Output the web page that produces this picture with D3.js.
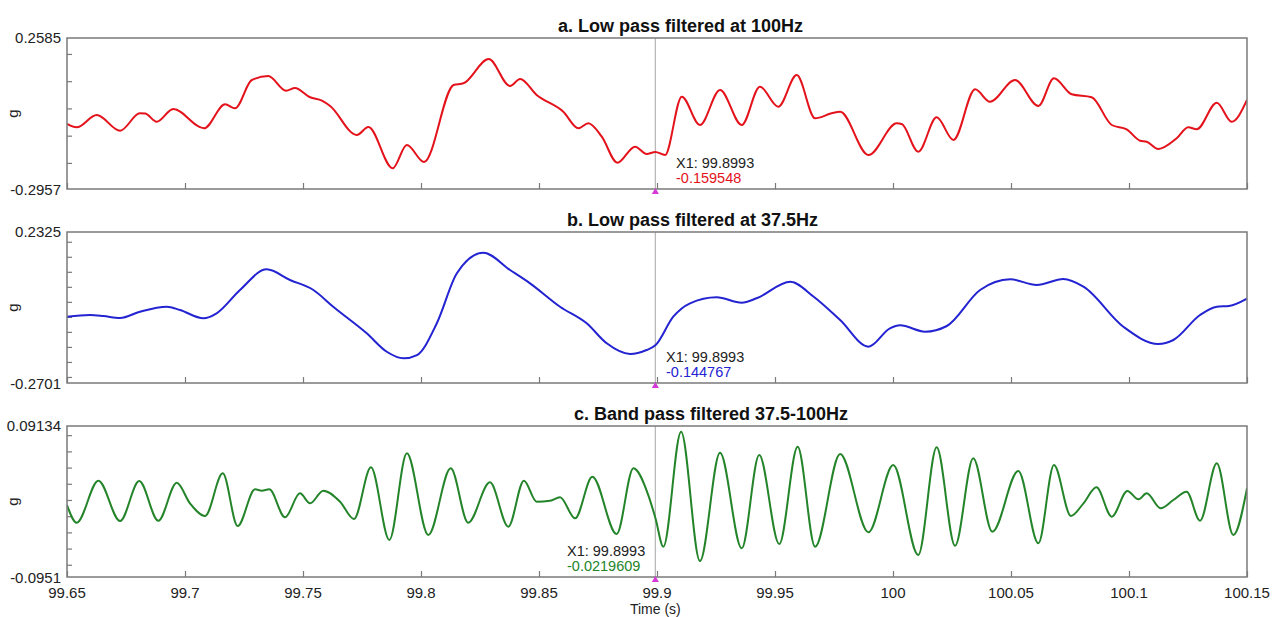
<!DOCTYPE html>
<html>
<head>
<meta charset="utf-8">
<script src="https://cdn.jsdelivr.net/npm/d3@7"></script>
<style>
  body { margin: 0; background: #fff; }
  text { font-family: "Liberation Sans", Arial, sans-serif; }
</style>
</head>
<body>
<svg id="chart" width="1280" height="617"></svg>
<script>
// ---- Shared time axis -------------------------------------------------
const xDomain = [99.65, 100.15];
const xTicks = [99.65, 99.7, 99.75, 99.8, 99.85, 99.9, 99.95, 100, 100.05, 100.1, 100.15];
const xTickLabels = ["99.65", "99.7", "99.75", "99.8", "99.85", "99.9", "99.95", "100", "100.05", "100.1", "100.15"];
const xAxisTitle = "Time (s)";
const cursorTime = 99.8993;
const cursorTimeLabel = "X1: 99.8993";

// ---- Panel titles, ranges and ticks ----------------------------------
const panelTitles = [
  "a. Low pass filtered at 100Hz",
  "b. Low pass filtered at 37.5Hz",
  "c. Band pass filtered 37.5-100Hz"
];
const yUnit = "g";
const yRangeA = [-0.2957, 0.2585];
const yRangeB = [-0.2701, 0.2325];
const yRangeC = [-0.0951, 0.09134];
const yEndLabelsA = ["-0.2957", "0.2585"];
const yEndLabelsB = ["-0.2701", "0.2325"];
const yEndLabelsC = ["-0.0951", "0.09134"];
const yTicksA = [-0.2, -0.1, 0, 0.1, 0.2];
const yTicksB = [-0.25, -0.2, -0.15, -0.1, -0.05, 0, 0.05, 0.1, 0.15, 0.2];
const yTicksC = [-0.08, -0.06, -0.04, -0.02, 0, 0.02, 0.04, 0.06, 0.08];
const cursorValueLabels = ["-0.159548", "-0.144767", "-0.0219609"];

// ---- Series: a. low pass 100 Hz --------------------------------------
const timeA = [99.650, 99.6541, 99.6626, 99.6725, 99.6809, 99.6831, 99.6880, 99.6950, 99.7081, 99.7170,
  99.7212, 99.7283, 99.7353, 99.7428, 99.7466, 99.7530, 99.7580, 99.7615, 99.7728, 99.7777,
  99.7880, 99.7940, 99.8013, 99.8138, 99.8180, 99.8287, 99.8377, 99.8420, 99.8490, 99.8603,
  99.8667, 99.8709, 99.8766, 99.8832, 99.8907, 99.8956, 99.8993, 99.9034, 99.9105, 99.9182,
  99.9267, 99.9359, 99.9436, 99.9514, 99.9592, 99.9670, 99.9740, 99.9776, 99.9896, 100.0016,
  100.0037, 100.0107, 100.0185, 100.0256, 100.0348, 100.0411, 100.0517, 100.0616, 100.0682, 100.0757,
  100.0842, 100.0927, 100.0990, 100.1047, 100.1075, 100.1124, 100.1202, 100.1251, 100.1287, 100.1372,
  100.1435, 100.150];
const valueA = [-0.0571, -0.0692, -0.0241, -0.0817, -0.0179, -0.0185, -0.0487, -0.0021, -0.0729, 0.0152,
  0.0005, 0.1044, 0.1190, 0.0651, 0.0750, 0.0409, 0.0284, 0.0089, -0.0975, -0.0681,
  -0.2197, -0.1342, -0.1966, 0.0860, 0.0922, 0.1814, 0.0823, 0.1080, 0.0493, -0.0120,
  -0.0729, -0.0546, -0.1037, -0.1992, -0.1404, -0.1672, -0.159548, -0.1709, 0.0431, -0.0608,
  0.0677, -0.0608, 0.0798, 0.0064, 0.1227, -0.0362, -0.0179, -0.0120, -0.1709, -0.0546,
  -0.0571, -0.1588, -0.0325, -0.1158, 0.0702, 0.0247, 0.1044, 0.0089, 0.1106, 0.0519,
  0.0409, -0.0608, -0.0766, -0.1184, -0.1221, -0.1489, -0.1096, -0.0692, -0.0766, 0.0211,
  -0.0487, 0.0310];

// ---- Series: b. low pass 37.5 Hz -------------------------------------
const timeB = [99.650, 99.6597, 99.6654, 99.6725, 99.6809, 99.6923, 99.6979, 99.7078, 99.7134, 99.7233,
  99.7346, 99.7445, 99.7544, 99.7628, 99.7770, 99.7855, 99.7926, 99.7983, 99.8067, 99.8152,
  99.8264, 99.8377, 99.8462, 99.8589, 99.8702, 99.8787, 99.8886, 99.8956, 99.8993, 99.9069,
  99.9140, 99.9253, 99.9359, 99.9422, 99.9565, 99.9664, 99.9776, 99.9896, 99.9987, 100.0030,
  100.0136, 100.0228, 100.0369, 100.0496, 100.0609, 100.0722, 100.0807, 100.0976, 100.1124, 100.1188,
  100.1301, 100.1372, 100.1424, 100.150];
const valueB = [-0.0495, -0.0438, -0.0471, -0.0538, -0.0328, -0.0162, -0.0272, -0.0548, -0.0381, 0.0394,
  0.1083, 0.0727, 0.0394, -0.0162, -0.1047, -0.1660, -0.1880, -0.1770, -0.0714, 0.0950,
  0.1636, 0.1060, 0.0617, -0.0162, -0.0714, -0.1380, -0.1736, -0.1603, -0.144767, -0.0495,
  -0.0049, 0.0151, -0.0029, 0.0118, 0.0670, 0.0171, -0.0605, -0.1493, -0.0881, -0.0781,
  -0.0994, -0.0804, 0.0394, 0.0750, 0.0561, 0.0760, 0.0504, -0.0828, -0.1403, -0.1270,
  -0.0438, -0.0162, -0.0138, 0.0105];

// ---- Series: c. band pass 37.5-100 Hz --------------------------------
const timeC = [99.650, 99.6541, 99.6633, 99.6725, 99.6806, 99.6887, 99.6965, 99.7021, 99.7085, 99.7160,
  99.7223, 99.7297, 99.7325, 99.7357, 99.7424, 99.7487, 99.7530, 99.7586, 99.7657, 99.7716,
  99.7788, 99.7866, 99.7940, 99.8031, 99.8126, 99.8200, 99.8292, 99.8370, 99.8436, 99.8490,
  99.8547, 99.8589, 99.8653, 99.8726, 99.8829, 99.8900, 99.8963, 99.8993, 99.9027, 99.9102,
  99.9182, 99.9267, 99.9359, 99.9433, 99.9518, 99.9596, 99.9670, 99.9776, 99.9896, 100.0001,
  100.0107, 100.0185, 100.0263, 100.0340, 100.0421, 100.0531, 100.0616, 100.0682, 100.0754, 100.0807,
  100.0862, 100.0927, 100.0993, 100.1040, 100.1075, 100.1134, 100.1188, 100.1244, 100.1301, 100.1372,
  100.1442, 100.150];
const valueC = [-0.0062, -0.0281, 0.0238, -0.0260, 0.0234, -0.0256, 0.0213, -0.0041, -0.0198, 0.0329,
  -0.0321, 0.0132, 0.0115, 0.0132, -0.0214, 0.0082, -0.0041, 0.0115, -0.0021, -0.0235,
  0.0403, -0.0494, 0.0576, -0.0432, 0.0391, -0.0281, 0.0218, -0.0330, 0.0238, -0.0021,
  -0.0009, 0.0033, -0.0226, 0.0287, -0.0420, 0.0391, 0.0061, -0.0219609, -0.0577, 0.0843,
  -0.0754, 0.0584, -0.0597, 0.0555, -0.0544, 0.0658, -0.0577, 0.0568, -0.0399, 0.0432,
  -0.0679, 0.0650, -0.0565, 0.0515, -0.0392, 0.0358, -0.0535, 0.0432, -0.0198, -0.0041,
  0.0156, -0.0206, 0.0111, 0.0008, 0.0082, -0.0103, 0.0000, 0.0102, -0.0256, 0.0453,
  -0.0432, 0.0144];

// ---- Layout -----------------------------------------------------------
const plotLeft = 67, plotRight = 1247, panelHeight = 151;
const panels = [
  { top: 38,  title: panelTitles[0], titleX: 558, time: timeA, value: valueA, range: yRangeA, ends: yEndLabelsA, ticks: yTicksA, color: "#e3121b", cursorLabel: cursorValueLabels[0], labelX: 676 },
  { top: 232, title: panelTitles[1], titleX: 567, time: timeB, value: valueB, range: yRangeB, ends: yEndLabelsB, ticks: yTicksB, color: "#2323d2", cursorLabel: cursorValueLabels[1], labelX: 666 },
  { top: 426, title: panelTitles[2], titleX: 574, time: timeC, value: valueC, range: yRangeC, ends: yEndLabelsC, ticks: yTicksC, color: "#24842a", cursorLabel: cursorValueLabels[2], labelX: 567 }
];

const svg = d3.select("#chart");
const x = d3.scaleLinear().domain(xDomain).range([plotLeft, plotRight]);
const textColor = "#222";
const frameColor = "#7a7a7a";

panels.forEach((p, i) => {
  const bottom = p.top + panelHeight;
  const y = d3.scaleLinear().domain(p.range).range([bottom, p.top]);
  const g = svg.append("g");

  g.append("clipPath").attr("id", "clip" + i)
    .append("rect").attr("x", plotLeft).attr("y", p.top)
    .attr("width", plotRight - plotLeft).attr("height", panelHeight);

  // inward minor ticks on the left edge
  const yAxis = g.append("g").attr("transform", `translate(${plotLeft},0)`)
    .call(d3.axisLeft(y).tickValues(p.ticks).tickSize(-5).tickFormat(""));
  yAxis.select(".domain").remove();
  yAxis.selectAll("line").attr("stroke", frameColor).attr("stroke-width", 1.2);

  // inward ticks along the bottom edge
  const xAxis = g.append("g").attr("transform", `translate(0,${bottom})`)
    .call(d3.axisBottom(x).tickValues(xTicks).tickSize(-6).tickFormat(""));
  xAxis.select(".domain").remove();
  xAxis.selectAll("line").attr("stroke", frameColor).attr("stroke-width", 1.2);

  // cursor line
  g.append("line")
    .attr("x1", x(cursorTime)).attr("x2", x(cursorTime))
    .attr("y1", p.top).attr("y2", bottom)
    .attr("stroke", "#b5b5b5").attr("stroke-width", 1.2);

  // signal trace
  const pts = p.time.map((t, k) => [t, p.value[k]]);
  g.append("path")
    .datum(pts)
    .attr("clip-path", `url(#clip${i})`)
    .attr("fill", "none")
    .attr("stroke", p.color)
    .attr("stroke-width", 2)
    .attr("stroke-linejoin", "round")
    .attr("d", d3.line().x(d => x(d[0])).y(d => y(d[1])).curve(d3.curveMonotoneX));

  // frame
  g.append("rect")
    .attr("x", plotLeft).attr("y", p.top)
    .attr("width", plotRight - plotLeft).attr("height", panelHeight)
    .attr("fill", "none").attr("stroke", frameColor).attr("stroke-width", 1.5);

  // cursor marker
  g.append("path")
    .attr("d", d3.symbol().type(d3.symbolTriangle).size(22)())
    .attr("transform", `translate(${x(cursorTime)},${bottom + 3})`)
    .attr("fill", "#d63ad6");

  // range end labels
  g.append("text").attr("x", 61).attr("y", p.top + 5)
    .attr("text-anchor", "end").attr("font-size", 15).attr("fill", textColor)
    .text(p.ends[1]);
  g.append("text").attr("x", 61).attr("y", bottom + 6)
    .attr("text-anchor", "end").attr("font-size", 15).attr("fill", textColor)
    .text(p.ends[0]);

  // unit label
  g.append("text")
    .attr("transform", `translate(18,${p.top + panelHeight / 2}) rotate(-90)`)
    .attr("text-anchor", "middle").attr("font-size", 15).attr("fill", textColor)
    .text(yUnit);

  // title
  g.append("text").attr("x", p.titleX).attr("y", p.top - 6)
    .attr("font-size", 18).attr("font-weight", "bold").attr("fill", "#111")
    .text(p.title);

  // cursor readout
  g.append("text").attr("x", p.labelX).attr("y", bottom - 21)
    .attr("font-size", 14.5).attr("fill", textColor)
    .text(cursorTimeLabel);
  g.append("text").attr("x", p.labelX).attr("y", bottom - 6)
    .attr("font-size", 14.5).attr("fill", p.color)
    .text(p.cursorLabel);

  // time labels on the last panel
  if (i === panels.length - 1) {
    g.selectAll(".xlab").data(xTicks).enter().append("text")
      .attr("x", d => x(d)).attr("y", bottom + 21)
      .attr("text-anchor", "middle").attr("font-size", 15).attr("fill", textColor)
      .text((d, k) => xTickLabels[k]);
    g.append("text").attr("x", x(cursorTime)).attr("y", bottom + 37)
      .attr("text-anchor", "middle").attr("font-size", 14).attr("fill", textColor)
      .text(xAxisTitle);
  }
});
</script>
</body>
</html>
